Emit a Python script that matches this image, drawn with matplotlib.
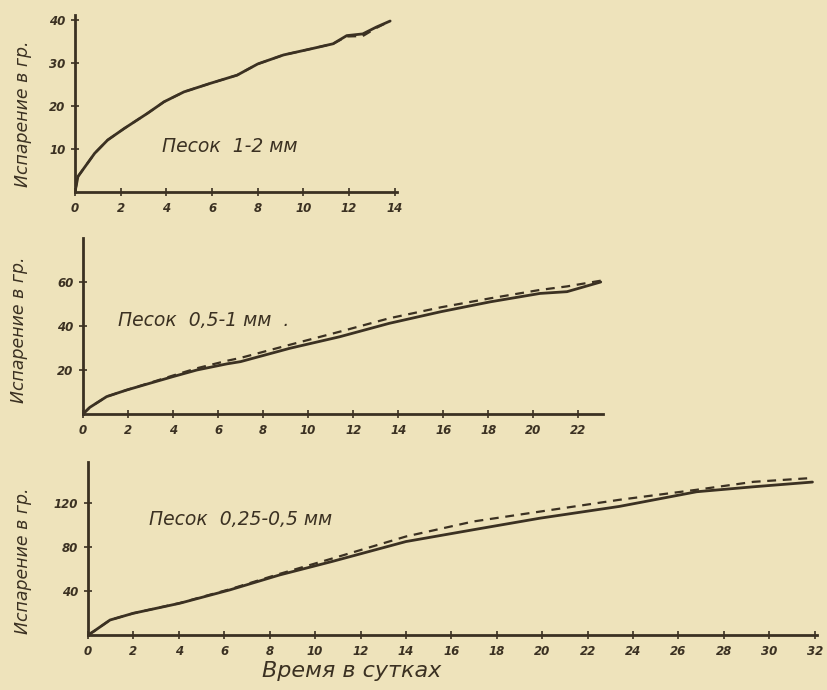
import matplotlib.pyplot as plt

# panel 1: sand 1-2 mm
days1 = [0, 0.13, 0.86, 1.43, 2.16, 3.17, 3.9, 4.77, 5.93, 7.1, 8.0, 9.13, 10.4, 11.3, 11.9, 12.6, 13.2, 13.8]
solid1 = [0, 3.6, 9.0, 12.1, 14.8, 18.3, 21.0, 23.3, 25.3, 27.2, 29.8, 31.9, 33.4, 34.5, 36.4, 36.8, 38.4, 39.8]
dashed1 = [0, 3.6, 9.0, 12.1, 14.8, 18.3, 21.0, 23.3, 25.3, 27.2, 29.8, 31.9, 33.4, 34.5, 36.2, 36.3, 38.2, 39.8]

# panel 2: sand 0.5-1 mm
days2 = [0, 0.3, 1.05, 1.94, 2.98, 4.0, 5.06, 6.4, 7.0, 9.2, 11.4, 13.6, 15.9, 18.1, 20.3, 21.5, 23.0]
solid2 = [0, 3, 7.9, 10.9, 14.0, 17.0, 20.0, 22.8, 23.8, 29.9, 35.1, 41.2, 46.5, 51.0, 54.8, 55.6, 60.0]
dashed2 = [0, 3, 7.9, 10.9, 14.2, 17.5, 20.8, 24.2, 25.5, 31.5, 37.4, 43.5, 48.5, 52.6, 56.4, 58.0, 60.6]

# panel 3: sand 0.25-0.5 mm
days3 = [0, 0.23, 0.97, 1.99, 4.04, 6.24, 8.44, 10.8, 14.0, 16.96, 19.9, 23.4, 26.8, 29.3, 31.9]
solid3 = [0, 3, 13.6, 19.7, 28.8, 40.9, 54.5, 67.0, 84.8, 95.5, 106, 116.7, 130, 134.5, 138.8]
dashed3 = [0, 3, 13.6, 19.7, 29.0, 41.5, 55.5, 69.7, 89.4, 103, 112, 122.7, 131.8, 139, 142.5]

xticks1 = list(range(0, 15, 2))
yticks1 = [10, 20, 30, 40]
xticks2 = list(range(0, 23, 2))
yticks2 = [20, 40, 60]
xticks3 = list(range(0, 33, 2))
yticks3 = [40, 80, 120]

paper = '#eee3bb'
ink = '#3b3122'

fig = plt.figure(figsize=(8.28, 6.9), dpi=100, facecolor=paper)

panels = [
    ([75/828, 1-192/690, 322/828, 177/690], days1, solid1, dashed1, (0, 14.1), (0, 41.2),
     xticks1, yticks1, 'Песок  1-2 мм', (3.8, 10.5), (-0.134, 0.44)),
    ([83/828, 1-414/690, 520/828, 176/690], days2, solid2, dashed2, (0, 23.1), (0, 80),
     xticks2, yticks2, 'Песок  0,5-1 мм  .', (1.55, 42.7), (-0.106, 0.48)),
    ([88/828, 1-635/690, 729/828, 173/690], days3, solid3, dashed3, (0, 32.1), (0, 157),
     xticks3, yticks3, 'Песок  0,25-0,5 мм', (2.7, 104.5), (-0.077, 0.43)),
]

for rect, x, s, d, xl, yl, xt, yt, name, pos, lab in panels:
    ax = fig.add_axes(rect)
    ax.set_facecolor('none')
    ax.plot(x, s, color=ink, lw=2.0, solid_capstyle='round')
    ax.plot(x, d, color=ink, lw=1.6, ls=(0, (4, 3)))
    ax.set_xlim(*xl)
    ax.set_ylim(*yl)
    ax.set_xticks(xt)
    ax.set_yticks(yt)
    ax.set_xticklabels([str(v) for v in xt], fontstyle='italic', fontweight='bold', fontsize=8.5, color=ink)
    ax.set_yticklabels([str(v) for v in yt], fontstyle='italic', fontweight='bold', fontsize=8.5, color=ink)
    ax.tick_params(direction='inout', length=6, width=1.2, color=ink, pad=4)
    for side in ['top', 'right']:
        ax.spines[side].set_visible(False)
    for side in ['left', 'bottom']:
        ax.spines[side].set_color(ink)
        ax.spines[side].set_linewidth(2.0)
    ax.set_ylabel('Испарение в гр.', fontstyle='italic', fontsize=12.5, color=ink)
    ax.yaxis.set_label_coords(lab[0], lab[1])
    ax.text(pos[0], pos[1], name, fontstyle='italic', fontsize=13.5, color=ink, va='center')

ax.set_xlabel('Время в сутках', fontstyle='italic', fontsize=16, color=ink)
ax.xaxis.set_label_coords(0.362, -0.15)

fig.savefig('out.png', dpi=100, facecolor=paper)
